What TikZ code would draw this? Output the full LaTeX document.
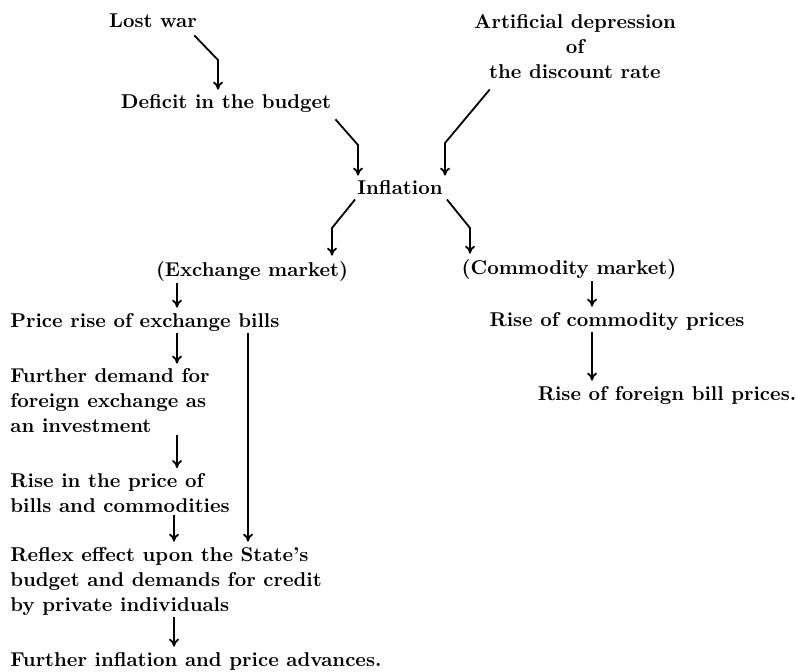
\documentclass[tikz,border=0pt]{standalone}
\usepackage{tikz}
\usetikzlibrary{calc}
\usetikzlibrary{arrows.meta}

\begin{document}
\begin{tikzpicture}[x=0.5pt,y=0.5pt,yscale=-1,xscale=1,
	txt/.style={inner sep=1pt,font={\fontsize{10}{12.5}\selectfont\bfseries}},
	lefttxt/.style={txt,anchor=west,align=left},
	flow/.style={line width=0.9pt,-{To[length=4pt,width=5pt]},shorten >=1.5pt}]
	%set diagram to the size of the page
	\useasboundingbox (0,0) rectangle (796,671);

	% Text Node
	\node [txt] (lost) at (153,21) {Lost war};
	% Text Node
	\node [txt,align=center] (art) at (575,47) {Artificial depression\\of\\the discount rate};
	% Text Node
	\node [txt] (deficit) at (226,104) {Deficit in the budget};
	% Text Node
	\node [txt] (infl) at (400,188) {Inflation};
	% Text Node
	\node [txt] (exch) at (252,271) {(Exchange market)};
	% Text Node
	\node [txt] (comm) at (569,269) {(Commodity market)};
	% Text Node
	\node [lefttxt] (price) at (8,322) {Price rise of exchange bills};
	% Text Node
	\node [lefttxt] (demand) at (8,401) {Further demand for\\foreign exchange as\\an investment};
	% Text Node
	\node [lefttxt] (risep) at (8,493) {Rise in the price of\\bills and commodities};
	% Text Node
	\node [lefttxt] (reflex) at (8,581) {Reflex effect upon the State's\\budget and demands for credit\\by private individuals};
	% Text Node
	\node [lefttxt] (further) at (8,661) {Further inflation and price advances.};
	% Text Node
	\node [txt] (rcp) at (617,321) {Rise of commodity prices};
	% Text Node
	\node [txt] (rfb) at (667,395) {Rise of foreign bill prices.};

	%bend points and columns
	\coordinate (k1) at (218,60);
	\coordinate (k2) at (358,145);
	\coordinate (k3) at (445,143);
	\coordinate (k4) at (332,228);
	\coordinate (k5) at (470,228);
	\coordinate (colA) at (177,0);
	\coordinate (colB) at (174,0);
	\coordinate (colC) at (248,0);
	\coordinate (colD) at (592,0);

	%Straight Lines
	\draw [flow] ($(lost.south east)+(-5,5)$) -- (k1) -- (k1 |- deficit.north);
	\draw [flow] ($(deficit.south east)+(2,4)$) -- (k2) -- (k2 |- infl.north);
	\draw [flow] ($(art.south west)+(18,8)$) -- (k3) -- (k3 |- infl.north);
	\draw [flow] ($(infl.south west)+(0,2)$) -- (k4) -- (k4 |- exch.north);
	\draw [flow] ($(infl.south east)+(2,2)$) -- (k5) -- (k5 |- comm.north);
	%Straight Lines
	\draw [flow] (exch.south -| colA) -- (price.north -| colA);
	\draw [flow] (price.south -| colA) -- (demand.north -| colA);
	\draw [flow] (demand.south -| colA) -- (risep.north -| colA);
	\draw [flow] (risep.south -| colB) -- (reflex.north -| colB);
	\draw [flow] (price.south -| colC) -- (reflex.north -| colC);
	\draw [flow] (reflex.south -| colB) -- (further.north -| colB);
	\draw [flow] (comm.south -| colD) -- (rcp.north -| colD);
	\draw [flow] (rcp.south -| colD) -- (rfb.north -| colD);

\end{tikzpicture}
\end{document}
